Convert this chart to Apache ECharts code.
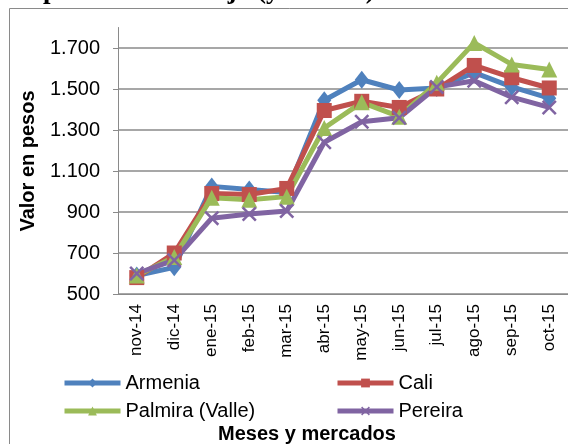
<!DOCTYPE html>
<html>
<head>
<meta charset="utf-8">
<script src="https://cdn.jsdelivr.net/npm/echarts@6/dist/echarts.min.js"></script>
<style>
  html, body { margin: 0; padding: 0; background: #fff; }
  #chart { width: 568px; height: 444px; }
</style>
</head>
<body>
<div id="chart"></div>
<script>
// months on the x axis
const months = ['nov-14', 'dic-14', 'ene-15', 'feb-15', 'mar-15', 'abr-15',
  'may-15', 'jun-15', 'jul-15', 'ago-15', 'sep-15', 'oct-15']

// price per market
const armenia = [590, 630, 1025, 1010, 995, 1445, 1545, 1495, 1505, 1580, 1510, 1455]
const cali = [580, 700, 990, 985, 1015, 1395, 1440, 1410, 1500, 1615, 1555, 1505]
const palmira = [590, 680, 970, 960, 975, 1310, 1435, 1365, 1530, 1725, 1620, 1595]
const pereira = [600, 665, 870, 890, 905, 1240, 1340, 1360, 1510, 1540, 1460, 1410]

const seriesNames = ['Armenia', 'Cali', 'Palmira (Valle)', 'Pereira']

const FONT = 'Liberation Sans, Arial, sans-serif'
const GRID_COLOR = '#8a8a8a'
const crossPath = 'path://M0,1.2 L1.2,0 L5,3.8 L8.8,0 L10,1.2 L6.2,5 L10,8.8 L8.8,10 L5,6.2 L1.2,10 L0,8.8 L3.8,5 Z'

function dotThousands(v) {
  return String(v).replace(/\B(?=(\d{3})+(?!\d))/g, '.')
}

function lineSeries(name, data, color, symbol, size) {
  return {
    name,
    type: 'line',
    data,
    symbol,
    symbolSize: size,
    showAllSymbol: true,
    lineStyle: { color, width: 5 },
    itemStyle: { color },
    emphasis: { disabled: true },
    animation: false
  }
}

const legendBase = {
  orient: 'vertical',
  top: 373,
  padding: 0,
  itemWidth: 56,
  itemHeight: 11,
  itemGap: 8,
  lineStyle: { width: 5 },
  textStyle: { fontFamily: FONT, fontSize: 20, color: '#000' }
}

const chart = echarts.init(document.getElementById('chart'))
chart.setOption({
  animation: false,
  grid: { left: 118, top: 27.5, right: -9, bottom: 150, containLabel: false },
  graphic: [
    {
      type: 'rect',
      shape: { x: 9.5, y: 8.5, width: 600, height: 500 },
      style: { fill: 'none', stroke: GRID_COLOR, lineWidth: 1 },
      z: -1
    },
    {
      type: 'text',
      left: 43,
      top: -22,
      style: {
        text: 'producto a la caja (yuca -G-)',
        font: 'bold 27px "Liberation Serif", "Times New Roman", serif',
        fill: '#000'
      }
    },
    {
      type: 'text',
      x: 28,
      y: 161,
      rotation: Math.PI / 2,
      style: {
        text: 'Valor en pesos',
        font: 'bold 20px ' + FONT,
        fill: '#000',
        align: 'center',
        verticalAlign: 'middle'
      }
    },
    {
      type: 'text',
      x: 307,
      y: 434,
      style: {
        text: 'Meses y mercados',
        font: 'bold 20px ' + FONT,
        fill: '#000',
        align: 'center',
        verticalAlign: 'middle'
      }
    }
  ],
  legend: [
    Object.assign({}, legendBase, { data: ['Armenia', 'Palmira (Valle)'], left: 62 }),
    Object.assign({}, legendBase, { data: ['Cali', 'Pereira'], left: 335 })
  ],
  xAxis: {
    type: 'category',
    data: months,
    boundaryGap: true,
    axisLine: { lineStyle: { color: GRID_COLOR, width: 1 } },
    axisTick: { show: false },
    axisLabel: {
      rotate: 90,
      margin: 10,
      interval: 0,
      fontFamily: FONT,
      fontSize: 17,
      color: '#000'
    }
  },
  yAxis: {
    type: 'value',
    min: 500,
    max: 1800,
    interval: 200,
    axisLine: { show: true, lineStyle: { color: GRID_COLOR, width: 1 } },
    axisTick: { show: true, length: 5, lineStyle: { color: GRID_COLOR } },
    splitLine: { show: true, showMaxLine: false, lineStyle: { color: GRID_COLOR, width: 1.5 } },
    axisLabel: {
      showMaxLabel: false,
      margin: 18,
      fontFamily: FONT,
      fontSize: 20,
      color: '#000',
      formatter: dotThousands
    }
  },
  series: [
    lineSeries(seriesNames[0], armenia, '#4f81bd', 'diamond', [14, 18]),
    lineSeries(seriesNames[1], cali, '#c0504d', 'rect', 15),
    lineSeries(seriesNames[2], palmira, '#9bbb59', 'triangle', 16),
    lineSeries(seriesNames[3], pereira, '#8064a2', crossPath, 15)
  ]
})
</script>
</body>
</html>
